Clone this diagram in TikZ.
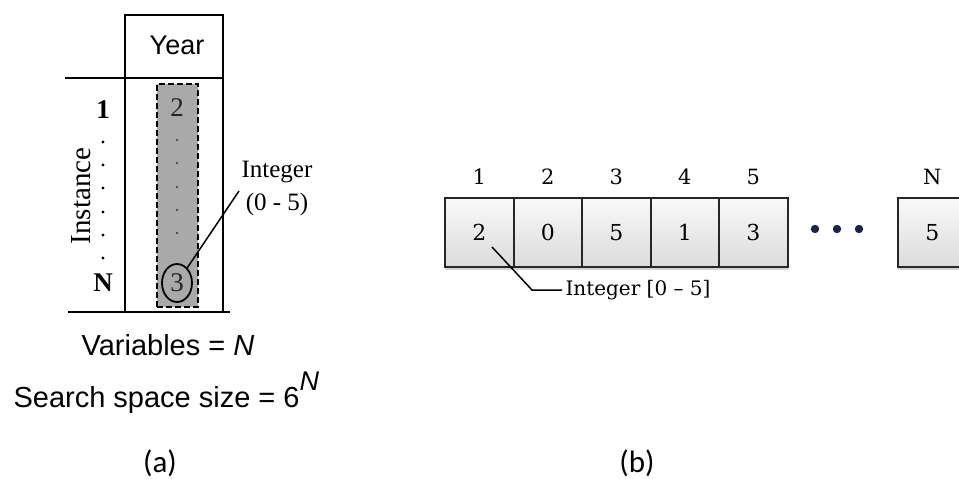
\documentclass[tikz,border=0pt]{standalone}
\usepackage{fontspec}
\setmainfont{Liberation Serif}
\newfontfamily\arialfont{Liberation Sans}
\newfontfamily\cambfont{DejaVu Serif}
\newfontfamily\calfont{Carlito}
\usetikzlibrary{positioning,shadows,shapes.geometric}
\definecolor{colgray}{HTML}{A9A9A9}
\definecolor{dotblue}{HTML}{1B2440}
\tikzset{
tline/.style={
line width=1.8pt
},
column/.style={
draw,
dash pattern=on 6pt off 3pt,
line width=1.5pt,
fill=colgray,
minimum width=41pt,
minimum height=223pt
},
pick/.style={
ellipse,
draw,
line width=1.8pt,
fill=colgray,
minimum width=30pt,
minimum height=38pt,
inner sep=0pt,
font=\fontsize{27}{27}\selectfont
},
cell/.style={
draw=black!85,
line width=2pt,
minimum width=68.5pt,
minimum height=69pt,
outer sep=0pt,
top color=gray!5,
bottom color=gray!28,
font={\cambfont\fontsize{22}{22}\selectfont},
drop shadow={shadow xshift=0pt,shadow yshift=-3pt,opacity=.35}
},
idx/.style={
inner sep=0pt,
font={\cambfont\fontsize{21}{21}\selectfont}
},
caption/.style={
font={\calfont\fontsize{31}{31}\selectfont}
},
callout/.style={
line width=1.5pt
}
}

\begin{document}
\begin{tikzpicture}[x=1pt,y=-1pt]
\useasboundingbox (0,0) rectangle (959,479);

% (a) table
\draw[tline] (125,312) -- (125,15) -- (223,15) -- (223,312);
\draw[tline] (65,78) -- (223,78);
\draw[tline] (68,312) -- (230,312);
\node[font={\arialfont\fontsize{27}{27}\selectfont}] (year) at (177,45) {Year};

\node[font={\bfseries\fontsize{27}{27}\selectfont}] (first) at (103,110) {1};
\node[font={\bfseries\fontsize{27}{27}\selectfont}] (last) at (103,283) {N};
\foreach \y in {142,165,188,212,235,258}
\fill (103,\y) circle (1.6pt);
\node[rotate=90,font=\fontsize{29}{29}\selectfont] (inst) at (81,196) {Instance};

\node[column] (col) at (177.5,195.5) {};
\node[text=black!85,font=\fontsize{27}{27}\selectfont] (top) at (177,108) {2};
\foreach \y in {140,163,187,210,233}
\fill[black!70] (177,\y) circle (1.4pt);
\node[pick,text=black!85] (sel) at (177,283) {3};

\node[align=center,font=\fontsize{25}{33}\selectfont] (intA) at (277,188) {Integer\\(0 - 5)};
\coordinate (tipA) at (239,191);
\draw[callout] (sel) -- (tipA);

\node[font={\arialfont\fontsize{29}{29}\selectfont},anchor=base] (vars) at (168,355) {Variables = \textit{N}};
\node[font={\arialfont\fontsize{29}{29}\selectfont},anchor=base west] (space) at (10,407)
{Search space size = 6\raisebox{17pt}{\fontsize{27}{27}\selectfont\itshape N}};

\node[caption] (capa) at (160,463) {(a)};

% (b) chromosome
\node[cell] (c1) at (479.25,232.5) {2};
\node[cell,right=0pt of c1] (c2) {0};
\node[cell,right=0pt of c2] (c3) {5};
\node[cell,right=0pt of c3] (c4) {1};
\node[cell,right=0pt of c4] (c5) {3};
\node[cell] (cN) at (932.25,232.5) {5};

\foreach \n/\t in {c1/1,c2/2,c3/3,c4/4,c5/5,cN/N}
\node[idx,above=13pt of \n] (l\n) {\t};

\foreach \x in {815,837,859}
\fill[dotblue] (\x,229) circle (4.2pt);

\coordinate (tipB) at (492,247);
\coordinate (bend) at (532,290);
\node[anchor=west,font={\cambfont\fontsize{20}{20}\selectfont}] (intB) at (562,290) {Integer [0 – 5]};
\draw[callout] (tipB) -- (bend) -- (intB.west);

\node[caption] (capb) at (637,463) {(b)};
\end{tikzpicture}
\end{document}
